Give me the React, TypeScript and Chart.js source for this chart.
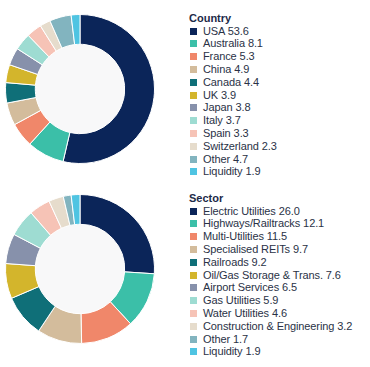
import React, { useEffect, useRef } from "react";
import { Chart, registerables } from "chart.js";

Chart.register(...registerables);

const countryLabels = ["USA", "Australia", "France", "China", "Canada", "UK", "Japan", "Italy", "Spain", "Switzerland", "Other", "Liquidity"];
const countryValues = [53.6, 8.1, 5.3, 4.9, 4.4, 3.9, 3.8, 3.7, 3.3, 2.3, 4.7, 1.9];

const sectorLabels = [
  "Electric Utilities",
  "Highways/Railtracks",
  "Multi-Utilities",
  "Specialised REITs",
  "Railroads",
  "Oil/Gas Storage & Trans.",
  "Airport Services",
  "Gas Utilities",
  "Water Utilities",
  "Construction & Engineering",
  "Other",
  "Liquidity",
];
const sectorValues = [26.0, 12.1, 11.5, 9.7, 9.2, 7.6, 6.5, 5.9, 4.6, 3.2, 1.7, 1.9];

const palette = [
  "#0b2559",
  "#3bbfa8",
  "#f0876a",
  "#d3bc9c",
  "#0f6f78",
  "#d3b52c",
  "#8791ab",
  "#9edcd2",
  "#f6c3b6",
  "#e6dccc",
  "#82b4bf",
  "#4fc4e2",
];

const holePlugin = {
  id: "hole",
  beforeDatasetsDraw(chart: any) {
    const meta = chart.getDatasetMeta(0);
    const arc = meta.data[0];
    if (!arc) return;
    const { x, y, innerRadius } = arc.getProps(["x", "y", "innerRadius"], true);
    const ctx = chart.ctx;
    ctx.save();
    ctx.fillStyle = "#f8f8f9";
    ctx.beginPath();
    ctx.arc(x, y, innerRadius, 0, Math.PI * 2);
    ctx.fill();
    ctx.restore();
  },
};

function Donut({ labels, values, left, top, size }: { labels: string[]; values: number[]; left: number; top: number; size: number }) {
  const ref = useRef<HTMLCanvasElement>(null);
  useEffect(() => {
    if (!ref.current) return;
    const chart = new Chart(ref.current, {
      type: "doughnut",
      data: {
        labels,
        datasets: [
          {
            data: values,
            backgroundColor: palette,
            borderColor: "#ffffff",
            borderWidth: 1,
          },
        ],
      },
      options: {
        animation: false,
        responsive: false,
        maintainAspectRatio: false,
        cutout: "60%",
        layout: { padding: 0 },
        plugins: { legend: { display: false }, tooltip: { enabled: false } },
      },
      plugins: [holePlugin],
    });
    return () => chart.destroy();
  }, []);
  return (
    <canvas
      ref={ref}
      width={size}
      height={size}
      style={{ position: "absolute", left, top, width: size, height: size }}
    />
  );
}

function Legend({ title, labels, values, left, top }: { title: string; labels: string[]; values: number[]; left: number; top: number }) {
  const lh = 12.8;
  return (
    <div
      style={{
        position: "absolute",
        left,
        top,
        fontFamily: "'Liberation Sans', Arial, sans-serif",
        fontSize: 11,
        lineHeight: `${lh}px`,
        letterSpacing: "-0.1px",
        whiteSpace: "nowrap",
      }}
    >
      <div style={{ fontWeight: "bold", color: "#1c2a48", height: lh, letterSpacing: 0 }}>{title}</div>
      {labels.map((l, i) => (
        <div key={l} style={{ height: lh, position: "relative", color: "#2a3246" }}>
          <span
            style={{
              position: "absolute",
              left: 1,
              top: 3,
              width: 7,
              height: 7,
              background: palette[i],
            }}
          />
          <span style={{ position: "absolute", left: 14, top: 0 }}>
            {l} {values[i].toFixed(1)}
          </span>
        </div>
      ))}
    </div>
  );
}

export default function App() {
  return (
    <div style={{ position: "fixed", left: 0, top: 0, width: 370, height: 367, background: "#ffffff", overflow: "hidden" }}>
      <Donut labels={countryLabels} values={countryValues} left={5} top={13.5} size={150} />
      <Donut labels={sectorLabels} values={sectorValues} left={5} top={194} size={150} />
      <Legend title="Country" labels={countryLabels} values={countryValues} left={189} top={11.9} />
      <Legend title="Sector" labels={sectorLabels} values={sectorValues} left={189} top={191.9} />
    </div>
  );
}
